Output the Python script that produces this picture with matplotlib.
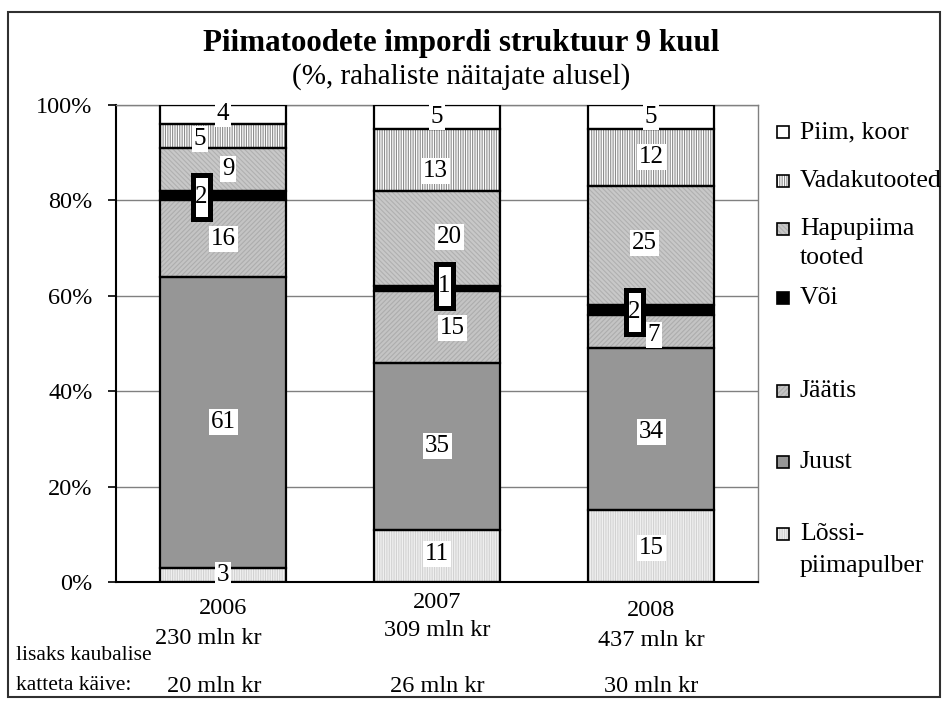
import matplotlib
matplotlib.use('Agg')
import matplotlib.pyplot as plt
from matplotlib.patches import Rectangle
from matplotlib.transforms import Affine2D, ScaledTranslation
import numpy as np

# ---------------- data ----------------
years = ['2006', '2007', '2008']
lossi = [3, 11, 15]          # Lõssipiimapulber
juust = [61, 35, 34]         # Juust
jaatis = [16, 15, 7]         # Jäätis
voi = [2, 1, 2]              # Või
hapupiima = [9, 20, 25]      # Hapupiima tooted
vadak = [5, 13, 12]          # Vadakutooted
piim = [4, 5, 5]             # Piim, koor
totals_main = ['230 mln kr', '309 mln kr', '437 mln kr']
totals_extra = ['20 mln kr', '26 mln kr', '30 mln kr']
yticks = [0, 20, 40, 60, 80, 100]
ytick_labels = ['0%', '20%', '40%', '60%', '80%', '100%']
title = 'Piimatoodete impordi struktuur 9 kuul'
subtitle = '(%, rahaliste näitajate alusel)'
note_lines = ['lisaks kaubalise', 'katteta käive:']

series = [lossi, juust, jaatis, voi, hapupiima, vadak, piim]
legend_entries = [['Piim, koor'], ['Vadakutooted'], ['Hapupiima', 'tooted'], ['Või'],
                  ['Jäätis'], ['Juust'], ['Lõssi-', 'piimapulber']]

# ---------------- styles ----------------
# (facecolor, hatch, hatchcolor)
styles = [
    ('#f0f0f0', '|||||||', '#d2d2d2'),   # lossi
    ('#969696', None, None),            # juust
    ('#c4c4c4', '///////', '#adadad'),   # jaatis
    ('#000000', None, None),            # voi
    ('#c8c8c8', '\\\\\\\\\\\\\\', '#b0b0b0'),  # hapupiima
    ('#ffffff', '|||||||', '#8c8c8c'),   # vadak
    ('#ffffff', None, None),            # piim
]
legend_style_order = [6, 5, 4, 3, 2, 1, 0]
# label pixel offsets (dx, dy) per series per year
label_dx = [[0, 0, 0], [0, 0, 0], [0, 15, 3], [-22, 7, -17], [5, 12, -7], [-23, -2, 0], [0, 0, 0]]
label_dy = [[0, 2, -2], [0, 0, -3], [0, -1, -3], [-1, 3, -2], [0, 2, 3], [-3, -11, 0], [1, 0, 0]]

W, H = 947, 704
plt.rcParams['font.family'] = ['Liberation Serif', 'DejaVu Serif']
plt.rcParams['hatch.linewidth'] = 0.8
fig = plt.figure(figsize=(W / 100, H / 100), dpi=100)


def fx(px):
    return px / W


def fy(py):
    return 1 - py / H


ax = fig.add_axes([fx(116), fy(582), fx(758) - fx(116), fy(105) - fy(582)])
x = np.arange(len(years))
bw = 0.59
bottom = np.zeros(len(years))
for vals, (fc, hatch, hc) in zip(series, styles):
    vals = np.array(vals, dtype=float)
    if hatch:
        ax.bar(x, vals, bw, bottom=bottom, color=fc, edgecolor=hc, hatch=hatch,
               linewidth=0, zorder=2)
    else:
        ax.bar(x, vals, bw, bottom=bottom, color=fc, linewidth=0, zorder=2)
    ax.bar(x, vals, bw, bottom=bottom, facecolor='none', edgecolor='black',
           linewidth=1.6, zorder=3)
    bottom += vals

# data labels
bottom = np.zeros(len(years))
for si, vals in enumerate(series):
    for i, v in enumerate(vals):
        yc = bottom[i] + v / 2
        dx, dy = label_dx[si][i], label_dy[si][i]
        if si == 3:
            tr = Affine2D() + ScaledTranslation(x[i], yc, ax.transData)
            ax.add_patch(Rectangle((dx - 8.5, dy - 22), 17, 44, transform=tr,
                                   facecolor='white', edgecolor='black', linewidth=3.6,
                                   joinstyle='miter', zorder=5))
            bbox = None
        else:
            bbox = dict(boxstyle='square,pad=0.08', facecolor='white', edgecolor='none')
        ax.annotate(str(v), xy=(x[i], yc), xytext=(dx, dy),
                    textcoords='offset pixels', ha='center', va='center',
                    fontsize=18, bbox=bbox, zorder=6)
    bottom += np.array(vals)

ax.set_xlim(-0.5, 2.5)
ax.set_ylim(0, 100)
ax.set_yticks(yticks)
ax.set_yticklabels(ytick_labels)
ax.set_xticks([])
ax.tick_params(axis='y', direction='out', length=6, width=1.2, pad=11, labelsize=17.5)
ax.yaxis.grid(True, color='#808080', linewidth=1.0, zorder=0)
ax.set_axisbelow(True)
for s in ['top', 'right']:
    ax.spines[s].set_color('#808080')
    ax.spines[s].set_linewidth(1.0)
for s in ['left', 'bottom']:
    ax.spines[s].set_color('black')
    ax.spines[s].set_linewidth(1.5)
ax.spines['bottom'].set_zorder(4)

# year labels and totals
year_dy = [-27, -21, -28]
main_pos = [(208, -56), (437, -49), (651, -58)]
extra_pos = [214, 437, 651]
for i, yr in enumerate(years):
    ax.annotate(yr, xy=(x[i], 0), xytext=(0, year_dy[i]), textcoords='offset pixels',
                ha='center', va='center', fontsize=17.5)
for i, t in enumerate(totals_main):
    fig.text(fx(main_pos[i][0]), fy(582 - main_pos[i][1]), t, ha='center', va='center', fontsize=17.5)
for i, t in enumerate(totals_extra):
    fig.text(fx(extra_pos[i]), fy(686), t, ha='center', va='center', fontsize=17.5)
fig.text(fx(16), fy(655), note_lines[0], ha='left', va='center', fontsize=15.5)
fig.text(fx(16), fy(686), note_lines[1], ha='left', va='center', fontsize=15.5)

# titles
fig.text(fx(461), fy(43), title, ha='center', va='center', fontsize=22.3, fontweight='bold')
fig.text(fx(461), fy(77), subtitle, ha='center', va='center', fontsize=21)

# legend (manual)
legend_y = [[132], [181], [229, 258], [298], [391], [462], [534, 566]]
for k, lines in enumerate(legend_entries):
    si = legend_style_order[k]
    fc, hatch, hc = styles[si]
    y0 = legend_y[k][0]
    fig.patches.append(Rectangle((fx(777), fy(y0 + 6)), fx(12), 12 / H, transform=fig.transFigure,
                                 facecolor=fc, edgecolor=hc if hatch else fc, hatch=hatch,
                                 linewidth=0, zorder=5))
    fig.patches.append(Rectangle((fx(777), fy(y0 + 6)), fx(12), 12 / H, transform=fig.transFigure,
                                 facecolor='none', edgecolor='black', linewidth=1.2, zorder=6))
    for line, yy in zip(lines, legend_y[k]):
        fig.text(fx(800), fy(yy), line, ha='left', va='center', fontsize=18.5)

# outer frame
fig.patches.append(Rectangle((fx(8), fy(697)), fx(932), (697 - 12) / H, transform=fig.transFigure,
                             facecolor='none', edgecolor='#303030', linewidth=1.5))

fig.savefig('out.png', dpi=100)
